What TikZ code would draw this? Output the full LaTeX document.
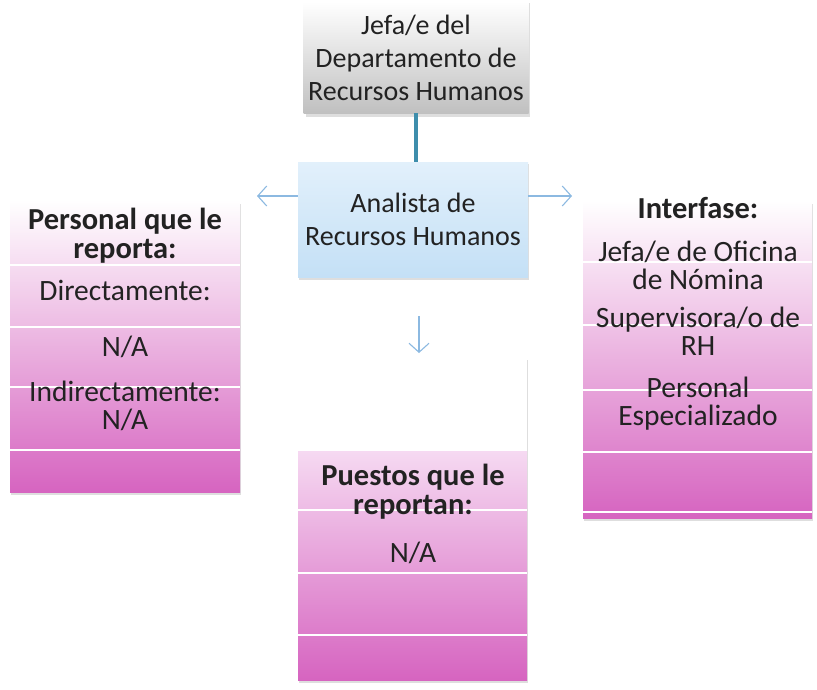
\documentclass[tikz,border=0pt]{standalone}
\usepackage{fontspec}
\setmainfont{Carlito}
\usetikzlibrary{arrows.meta}
\definecolor{magdark}{RGB}{214,100,192}
\definecolor{magmid}{RGB}{236,178,226}
\definecolor{maglight}{RGB}{246,218,242}
\definecolor{grayb}{RGB}{192,192,192}
\definecolor{bluef}{RGB}{196,224,246}
\definecolor{bluel}{RGB}{226,240,251}
\definecolor{linkteal}{RGB}{62,142,172}
\definecolor{arrowblue}{RGB}{140,185,225}
\definecolor{txt}{RGB}{34,34,34}
\definecolor{shadowc}{RGB}{222,222,222}
\begin{document}
\begin{tikzpicture}[x=1pt,y=-1pt,
  lbl/.style={text=txt, align=center, inner sep=0pt, font=\fontsize{29.5}{28}\selectfont},
  hdr/.style={text=txt, align=center, inner sep=0pt, font=\fontsize{30.5}{29}\selectfont\bfseries},
  topbox/.style={inner sep=0pt, align=center, text=txt, font=\fontsize{28}{33}\selectfont},
  sepline/.style={white, line width=1.6pt},
  link/.style={arrowblue, line width=1.1pt, -{Straight Barb[length=9pt,width=20pt]}}]
\useasboundingbox (0,0) rectangle (817,689);

% top box
\fill[shadowc] (306,3) rectangle (530,117);
\node[topbox, shade, top color=white, bottom color=grayb,
      minimum width=225pt, minimum height=111pt] (boss) at (416,57.5)
  {Jefa/e del\\Departamento de\\Recursos Humanos};

% analyst box
\fill[shadowc] (299,164) rectangle (529,280);
\node[topbox, shade, top color=bluel, bottom color=bluef,
      minimum width=230pt, minimum height=115pt] (analyst) at (413,219.5)
  {Analista de\\Recursos Humanos};

\draw[linkteal, line width=4pt] (boss.south) -- (boss.south |- analyst.north);

% arrows
\coordinate (lt) at (257,196);
\coordinate (rt) at (572,196);
\coordinate (ds) at (419,316);
\coordinate (de) at (419,353);
\draw[link] (analyst.west |- lt) -- (lt);
\draw[link] (analyst.east |- rt) -- (rt);
\draw[link] (ds) -- (de);

% left stack
\fill[shadowc] (11,204) rectangle (241,495);
\shade[top color=white, middle color=magmid, bottom color=magdark] (10,200) rectangle (240,492);
\foreach \yy in {265,327,387,450} \draw[sepline] (10,\yy) -- (240,\yy);
\node[hdr] (lhead) at (125,236) {Personal que le\\reporta:};
\node[lbl] (ldir) at (125,290) {Directamente:};
\node[lbl] (lna) at (125,347) {N/A};
\node[lbl] (lind) at (125,406) {Indirectamente:\\N/A};

% right stack
\fill[shadowc] (584,204) rectangle (813,521);
\shade[top color=white, middle color=magmid, bottom color=magdark] (583,200) rectangle (812,518);
\foreach \yy in {262,325,390,452,512} \draw[sepline] (583,\yy) -- (812,\yy);
\node[hdr] (rhead) at (698,208) {Interfase:};
\node[lbl] (rjefa) at (698,265) {Jefa/e de Oficina\\de Nómina};
\node[lbl] (rsup) at (698,331) {Supervisora/o de\\RH};
\node[lbl] (rper) at (698,404) {Personal\\Especializado};

% bottom stack
\fill[shadowc] (299,360) rectangle (528,683);
\fill[white] (298,357) rectangle (527,450);
\shade[top color=maglight, middle color=magmid, bottom color=magdark] (298,450) rectangle (527,680);
\foreach \yy in {450,510,573,635} \draw[sepline] (298,\yy) -- (527,\yy);
\node[hdr] (bhead) at (413,492) {Puestos que le\\reportan:};
\node[lbl] (bna) at (413,553) {N/A};
\end{tikzpicture}
\end{document}
